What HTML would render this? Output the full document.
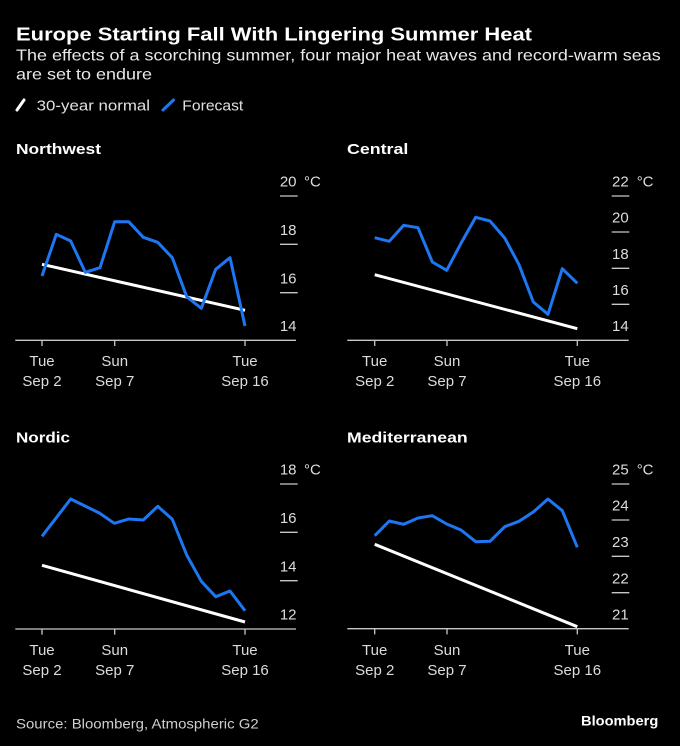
<!DOCTYPE html>
<html><head><meta charset="utf-8"><style>
html,body{margin:0;padding:0;background:#000;}
svg{display:block;}
text{font-family:"Liberation Sans",sans-serif;}
</style></head><body>
<svg width="680" height="746" viewBox="0 0 680 746" xmlns="http://www.w3.org/2000/svg">
<rect x="0" y="0" width="680" height="746" fill="#000"/>
<text x="16" y="40.7" font-size="18.5" font-weight="bold" fill="#fff" textLength="516" lengthAdjust="spacingAndGlyphs">Europe Starting Fall With Lingering Summer Heat</text>
<text x="16" y="60.7" font-size="16" fill="#e8e8e8" textLength="644.7" lengthAdjust="spacingAndGlyphs">The effects of a scorching summer, four major heat waves and record-warm seas</text>
<text x="16" y="79.3" font-size="16" fill="#e8e8e8" textLength="136" lengthAdjust="spacingAndGlyphs">are set to endure</text>
<line x1="17" y1="110" x2="24" y2="100" stroke="#fff" stroke-width="3" stroke-linecap="round"/>
<text x="36.7" y="110.7" font-size="15" fill="#e0e0e0" textLength="113.3" lengthAdjust="spacingAndGlyphs">30-year normal</text>
<line x1="163" y1="110" x2="173.5" y2="100" stroke="#1d77f2" stroke-width="3" stroke-linecap="round"/>
<text x="182.3" y="110.7" font-size="15" fill="#e0e0e0" textLength="61" lengthAdjust="spacingAndGlyphs">Forecast</text>

<!-- Northwest -->
<text x="16" y="154" font-size="15" font-weight="bold" fill="#fff" textLength="85" lengthAdjust="spacingAndGlyphs">Northwest</text>
<g stroke="#c8c8c8" stroke-width="1.3">
<line x1="15.3" y1="340.3" x2="296" y2="340.3"/>
<line x1="42" y1="340.3" x2="42" y2="346"/><line x1="114.7" y1="340.3" x2="114.7" y2="346"/><line x1="245" y1="340.3" x2="245" y2="346"/>
<line x1="280" y1="196" x2="297.7" y2="196"/><line x1="280" y1="244.3" x2="297.7" y2="244.3"/><line x1="280" y1="292.7" x2="297.7" y2="292.7"/>
</g>
<g font-size="15" fill="#dcdcdc" text-anchor="end">
<text x="296.5" y="186.7">20</text><text x="296.5" y="235">18</text><text x="296.5" y="283.4">16</text><text x="296.5" y="331">14</text>
</g>
<text x="304" y="186.7" font-size="15" fill="#dcdcdc">°C</text>
<g font-size="15" fill="#dcdcdc" text-anchor="middle">
<text x="42" y="366">Tue</text><text x="42" y="386">Sep 2</text>
<text x="114.7" y="366">Sun</text><text x="114.7" y="386">Sep 7</text>
<text x="245" y="366">Tue</text><text x="245" y="386">Sep 16</text>
</g>
<polyline fill="none" stroke="#fff" stroke-width="3" points="42,264.3 245,310.3"/>
<polyline fill="none" stroke="#1d77f2" stroke-width="3" stroke-linejoin="round" points="42,276 56.3,234.3 70.7,241 85.3,272.3 100,267.7 114.7,221.7 128.7,221.7 143.3,237.3 157.7,242.3 172.3,257.7 186.7,296.7 201.3,308.3 215.7,269.3 230,257.7 245,326"/>

<!-- Central -->
<text x="347" y="154" font-size="15" font-weight="bold" fill="#fff" textLength="61.3" lengthAdjust="spacingAndGlyphs">Central</text>
<g stroke="#c8c8c8" stroke-width="1.3">
<line x1="347.3" y1="340.3" x2="628.7" y2="340.3"/>
<line x1="374.7" y1="340.3" x2="374.7" y2="346"/><line x1="447" y1="340.3" x2="447" y2="346"/><line x1="577.3" y1="340.3" x2="577.3" y2="346"/>
<line x1="611.7" y1="196" x2="629.3" y2="196"/><line x1="611.7" y1="232" x2="629.3" y2="232"/><line x1="611.7" y1="268.3" x2="629.3" y2="268.3"/><line x1="611.7" y1="304.3" x2="629.3" y2="304.3"/>
</g>
<g font-size="15" fill="#dcdcdc" text-anchor="end">
<text x="628.7" y="186.7">22</text><text x="628.7" y="222.7">20</text><text x="628.7" y="259">18</text><text x="628.7" y="295">16</text><text x="628.7" y="331">14</text>
</g>
<text x="636.7" y="186.7" font-size="15" fill="#dcdcdc">°C</text>
<g font-size="15" fill="#dcdcdc" text-anchor="middle">
<text x="374.7" y="366">Tue</text><text x="374.7" y="386">Sep 2</text>
<text x="447" y="366">Sun</text><text x="447" y="386">Sep 7</text>
<text x="577.3" y="366">Tue</text><text x="577.3" y="386">Sep 16</text>
</g>
<polyline fill="none" stroke="#fff" stroke-width="3" points="374.7,274.7 577.3,328.7"/>
<polyline fill="none" stroke="#1d77f2" stroke-width="3" stroke-linejoin="round" points="374.7,237.7 389.3,241.3 403.7,225.3 418,227.7 432.3,262 446.7,270.3 461,243.3 475.7,217.3 490,221 504.7,238 519,264.7 533.3,302 548,314.3 562.3,268.7 577.3,283.3"/>

<!-- Nordic -->
<text x="16" y="442.7" font-size="15" font-weight="bold" fill="#fff" textLength="54" lengthAdjust="spacingAndGlyphs">Nordic</text>
<g stroke="#c8c8c8" stroke-width="1.3">
<line x1="15.3" y1="629" x2="296" y2="629"/>
<line x1="42" y1="629" x2="42" y2="634.7"/><line x1="114.7" y1="629" x2="114.7" y2="634.7"/><line x1="245" y1="629" x2="245" y2="634.7"/>
<line x1="280" y1="484" x2="297.7" y2="484"/><line x1="280" y1="532.3" x2="297.7" y2="532.3"/><line x1="280" y1="580.7" x2="297.7" y2="580.7"/>
</g>
<g font-size="15" fill="#dcdcdc" text-anchor="end">
<text x="296.5" y="474.7">18</text><text x="296.5" y="523">16</text><text x="296.5" y="571.4">14</text><text x="296.5" y="619.7">12</text>
</g>
<text x="304" y="474.7" font-size="15" fill="#dcdcdc">°C</text>
<g font-size="15" fill="#dcdcdc" text-anchor="middle">
<text x="42" y="655">Tue</text><text x="42" y="675">Sep 2</text>
<text x="114.7" y="655">Sun</text><text x="114.7" y="675">Sep 7</text>
<text x="245" y="655">Tue</text><text x="245" y="675">Sep 16</text>
</g>
<polyline fill="none" stroke="#fff" stroke-width="3" points="42,565.3 245,622"/>
<polyline fill="none" stroke="#1d77f2" stroke-width="3" stroke-linejoin="round" points="42,536.3 56.3,517.7 70.7,499 85,506 99.3,513 114.3,523.3 128.7,519 143.3,520 157.7,506.3 172.3,519.3 186.7,555 201.3,581.3 215.7,596.7 230,591 245,610.7"/>

<!-- Mediterranean -->
<text x="347" y="442.7" font-size="15" font-weight="bold" fill="#fff" textLength="120.7" lengthAdjust="spacingAndGlyphs">Mediterranean</text>
<g stroke="#c8c8c8" stroke-width="1.3">
<line x1="347.3" y1="628.7" x2="628.7" y2="628.7"/>
<line x1="374.7" y1="628.7" x2="374.7" y2="634.4"/><line x1="447" y1="628.7" x2="447" y2="634.4"/><line x1="577.3" y1="628.7" x2="577.3" y2="634.4"/>
<line x1="611.7" y1="484" x2="629.3" y2="484"/><line x1="611.7" y1="520" x2="629.3" y2="520"/><line x1="611.7" y1="556.3" x2="629.3" y2="556.3"/><line x1="611.7" y1="592.7" x2="629.3" y2="592.7"/>
</g>
<g font-size="15" fill="#dcdcdc" text-anchor="end">
<text x="628.7" y="474.7">25</text><text x="628.7" y="510.7">24</text><text x="628.7" y="547">23</text><text x="628.7" y="583.4">22</text><text x="628.7" y="619.5">21</text>
</g>
<text x="636.7" y="474.7" font-size="15" fill="#dcdcdc">°C</text>
<g font-size="15" fill="#dcdcdc" text-anchor="middle">
<text x="374.7" y="655">Tue</text><text x="374.7" y="675">Sep 2</text>
<text x="447" y="655">Sun</text><text x="447" y="675">Sep 7</text>
<text x="577.3" y="655">Tue</text><text x="577.3" y="675">Sep 16</text>
</g>
<polyline fill="none" stroke="#fff" stroke-width="3" points="374.7,544.3 577.3,626.7"/>
<polyline fill="none" stroke="#1d77f2" stroke-width="3" stroke-linejoin="round" points="374.7,535.7 389.3,521 403.7,524.3 418,518 432.3,515.7 446.7,524 461,530 475.7,541.7 490,541.3 504.7,526.7 519,521.3 533.3,512 548,499 562.3,510.7 577.3,547.3"/>

<!-- Footer -->
<text x="16" y="728.3" font-size="13.5" fill="#cfcfcf" textLength="242.7" lengthAdjust="spacingAndGlyphs">Source: Bloomberg, Atmospheric G2</text>
<text x="581" y="725.5" font-size="14" font-weight="bold" fill="#fff" textLength="77.3" lengthAdjust="spacingAndGlyphs">Bloomberg</text>
</svg>
</body></html>
